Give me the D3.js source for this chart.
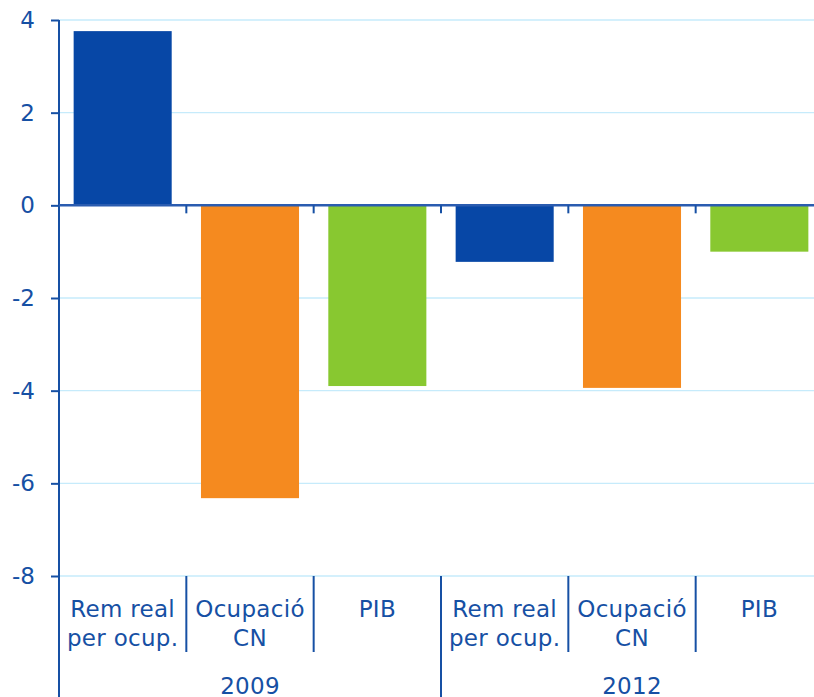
<!DOCTYPE html>
<html>
<head>
<meta charset="utf-8">
<script src="https://cdn.jsdelivr.net/npm/d3@7"></script>
<style>
body { margin: 0; background: #fff; }
svg text { font-family: "DejaVu Sans", Verdana, sans-serif; fill: #1650a4; }
</style>
</head>
<body>
<div id="chart"></div>
<script>
// ------------------------------------------------------------------
// data
const years = ["2009", "2012"]
const categories = [["Rem real", "per ocup."], ["Ocupació", "CN"], ["PIB"]]
const values_2009 = [3.76, -6.32, -3.9]
const values_2012 = [-1.22, -3.94, -1.0]
const colors = ["#0747a6", "#f58a1f", "#88c830"]
const y_ticks = [4, 2, 0, -2, -4, -6, -8]

// ------------------------------------------------------------------
const W = 814, H = 697
const margin = {top: 20, left: 59, right: -9, bottom: 121}
const plot_bottom = H - margin.bottom

const data = []
years.forEach(function (yr, i) {
	const vals = i === 0 ? values_2009 : values_2012
	categories.forEach(function (c, j) {
		data.push({key: yr + "-" + j, year: yr, label: c, value: vals[j], color: colors[j]})
	})
})

const x = d3.scaleBand()
	.domain(data.map(d => d.key))
	.range([margin.left, W - margin.right])
	.paddingInner(0.23)
	.paddingOuter(0.115)

const y = d3.scaleLinear()
	.domain([-8, 4])
	.range([plot_bottom, margin.top])

const svg = d3.select("#chart").append("svg")
	.attr("width", W)
	.attr("height", H)

const step = x.step()
const x0 = margin.left
const axis_color = "#1650a4"

// gridlines
svg.append("g").selectAll("line")
	.data(y_ticks)
	.enter().append("line")
	.attr("x1", x0).attr("x2", W)
	.attr("y1", d => y(d)).attr("y2", d => y(d))
	.attr("stroke", "#c6ebfb").attr("stroke-width", 1.3)

// bars
svg.append("g").selectAll("rect")
	.data(data)
	.enter().append("rect")
	.attr("x", d => x(d.key))
	.attr("width", x.bandwidth())
	.attr("y", d => y(Math.max(0, d.value)))
	.attr("height", d => Math.abs(y(d.value) - y(0)))
	.attr("fill", d => d.color)

// y axis
const yAxis = svg.append("g")
	.attr("transform", "translate(" + x0 + ",0)")
	.call(d3.axisLeft(y).tickValues(y_ticks).tickSize(8).tickPadding(16)
		.tickFormat(d => String(d)))
yAxis.select(".domain").remove()
yAxis.selectAll(".tick line").attr("stroke", axis_color).attr("stroke-width", 2)
yAxis.selectAll(".tick text").attr("font-size", 23).style("fill", "#1650a4")
	.attr("font-family", "DejaVu Sans")

svg.append("line")
	.attr("x1", x0).attr("x2", x0)
	.attr("y1", margin.top).attr("y2", H)
	.attr("stroke", axis_color).attr("stroke-width", 2)

// zero line
svg.append("line")
	.attr("x1", x0).attr("x2", W)
	.attr("y1", y(0)).attr("y2", y(0))
	.attr("stroke", "#2a5cb0").attr("stroke-width", 2.5)

// small ticks under zero line at category boundaries
const bounds = d3.range(1, data.length + 1).map(i => x0 + i * step)
svg.append("g").selectAll("line")
	.data(bounds)
	.enter().append("line")
	.attr("x1", d => d).attr("x2", d => d)
	.attr("y1", y(0)).attr("y2", y(0) + 8)
	.attr("stroke", axis_color).attr("stroke-width", 2)

// separators between categories (short) and years (long)
svg.append("g").selectAll("line")
	.data(bounds)
	.enter().append("line")
	.attr("x1", d => d).attr("x2", d => d)
	.attr("y1", plot_bottom)
	.attr("y2", (d, i) => (i + 1) % categories.length === 0 ? H : plot_bottom + 76)
	.attr("stroke", axis_color).attr("stroke-width", 2)

// category labels
const lab = svg.append("g").selectAll("text")
	.data(data)
	.enter().append("text")
	.attr("x", d => x(d.key) + x.bandwidth() / 2)
	.attr("y", plot_bottom + 41)
	.attr("text-anchor", "middle")
	.attr("font-size", 23)
	.attr("letter-spacing", 0.3)
lab.selectAll("tspan")
	.data(d => d.label)
	.enter().append("tspan")
	.attr("x", function () { return this.parentNode.getAttribute("x") })
	.attr("dy", (d, i) => i === 0 ? 0 : 29)
	.text(d => d)

// year labels
svg.append("g").selectAll("text")
	.data(years)
	.enter().append("text")
	.attr("x", (d, i) => x0 + (i + 0.5) * categories.length * step)
	.attr("y", plot_bottom + 118)
	.attr("text-anchor", "middle")
	.attr("font-size", 23)
	.attr("letter-spacing", 0.3)
	.text(d => d)
</script>
</body>
</html>
